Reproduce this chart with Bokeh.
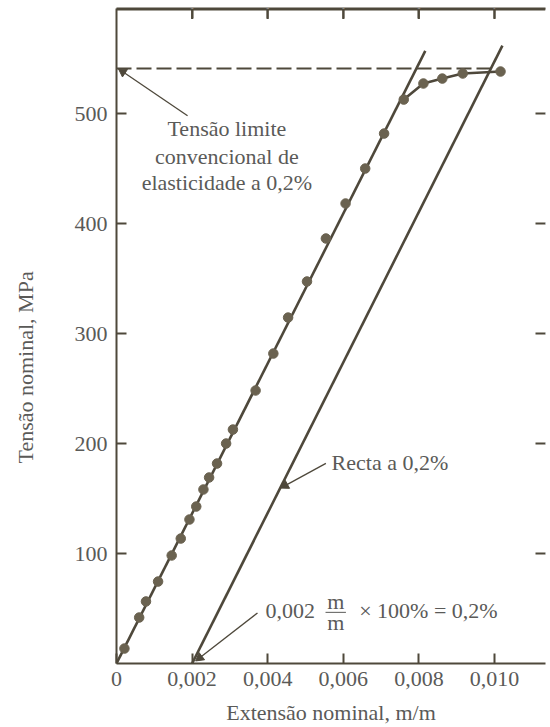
import math
from bokeh.plotting import figure
from bokeh.models import LinearAxis, FixedTicker, Range1d, Label, Title
from bokeh.embed import file_html
from bokeh.resources import INLINE

# ---- data ----
strain = [0.00021, 0.00060, 0.00078, 0.00110, 0.00146, 0.00170, 0.00193,
          0.00211, 0.00230, 0.00245, 0.00266, 0.00290, 0.00308, 0.00368,
          0.00415, 0.00454, 0.00504, 0.00554, 0.00606, 0.00658, 0.00708,
          0.00760, 0.00812, 0.00862, 0.00916, 0.01016]
stress = [13.6, 41.8, 56.4, 74.5, 98.2, 113.6, 130.9,
          142.7, 158.2, 169.1, 181.8, 200.0, 212.7, 248.2,
          281.8, 314.5, 347.3, 386.4, 418.2, 450.0, 481.8,
          512.7, 527.3, 531.8, 536.4, 538.2]
curve_start = 21                     # index where the curve leaves the elastic line
elastic_x = [0.0, 0.00817]
elastic_y = [0.0, 557.0]
offset_x = [0.002, 0.01021]
offset_y = [0.0, 561.8]
yield_stress = 541.0
yield_strain = 0.00991

x_ticks = [0.0, 0.002, 0.004, 0.006, 0.008, 0.010]
x_tick_labels = ["0", "0,002", "0,004", "0,006", "0,008", "0,010"]
y_ticks = [100, 200, 300, 400, 500]
y_tick_labels = ["100", "200", "300", "400", "500"]

X_END = 0.01135
Y_END = 595.5
PX_X = 38300.0    # approx. pixels per unit strain (for arrow-head orientation)
PX_Y = 1.1        # approx. pixels per MPa

INK = "#4e483b"
DOT = "#6a6250"
TXT = "#5a5a58"
FONT = "Liberation Serif"
FS = "22px"

p = figure(width=550, height=727, output_backend="svg", toolbar_location=None,
           x_range=Range1d(0, X_END), y_range=Range1d(0, Y_END),
           x_axis_location=None, y_axis_location=None,
           min_border_left=116, min_border_right=0, min_border_top=8,
           min_border_bottom=64)
p.grid.visible = False
p.outline_line_color = None

def style(ax, labels=True):
    ax.axis_line_color = INK
    ax.axis_line_width = 2
    ax.major_tick_line_color = INK
    ax.major_tick_line_width = 2
    ax.major_tick_in = 10
    ax.major_tick_out = 0
    ax.minor_tick_line_color = None
    ax.major_label_text_font = FONT
    ax.major_label_text_color = TXT
    if labels:
        ax.major_label_text_font_size = FS
    else:
        ax.major_label_text_font_size = "1px"
        ax.major_label_text_color = "white"
        ax.major_label_standoff = 0

xb = LinearAxis(ticker=FixedTicker(ticks=x_ticks),
                major_label_overrides=dict(zip(x_ticks, x_tick_labels)))
style(xb)
xb.major_label_standoff = 8
xb.axis_label = "Extensão nominal, m/m"
xb.axis_label_text_font = FONT
xb.axis_label_text_font_size = FS
xb.axis_label_text_font_style = "normal"
xb.axis_label_text_color = TXT
xb.axis_label_standoff = 11
p.add_layout(xb, "below")

yl = LinearAxis(ticker=FixedTicker(ticks=y_ticks),
                major_label_overrides=dict(zip(y_ticks, y_tick_labels)))
style(yl)
yl.major_label_standoff = 9
yl.axis_label = "\u00a0"           # spacer so that the title sits further out
yl.axis_label_text_font_size = FS
yl.axis_label_standoff = 1
p.add_layout(yl, "left")

xt = LinearAxis(ticker=FixedTicker(ticks=x_ticks[1:]))
style(xt, labels=False)
p.add_layout(xt, "above")

yr = LinearAxis(ticker=FixedTicker(ticks=y_ticks))
style(yr, labels=False)
yr.axis_line_color = None
p.add_layout(yr, "right")

# y axis title (a little below the frame centre, as in the original)
p.add_layout(Title(text="Tensão nominal, MPa", align="left", offset=200,
                   standoff=10, text_font=FONT, text_font_size=FS,
                   text_font_style="normal", text_color=TXT), "left")

# top frame edge with inward ticks
top_ticks = x_ticks[1:]
p.segment(x0=[0], y0=[Y_END], x1=[X_END], y1=[Y_END], line_color=INK, line_width=4)
p.segment(x0=top_ticks, y0=[Y_END] * len(top_ticks), x1=top_ticks,
          y1=[Y_END - 9.5] * len(top_ticks), line_color=INK, line_width=2)

# lines and points
p.line(elastic_x, elastic_y, line_color=INK, line_width=2.6)
p.line(offset_x, offset_y, line_color=INK, line_width=2.6)
p.line(strain[curve_start:], stress[curve_start:], line_color=INK, line_width=2.6)
p.line([0, yield_strain], [yield_stress, yield_stress], line_color=INK,
       line_width=2, line_dash="15 5")
p.scatter(strain, stress, size=9.5, fill_color=DOT, line_color=DOT)

# annotations
def lab(x, y, t, align="center"):
    p.add_layout(Label(x=x, y=y, text=t, text_align=align, text_baseline="middle",
                       text_font=FONT, text_font_size=FS, text_color=TXT))

lab(0.00292, 486, "Tensão limite")
lab(0.00292, 461, "convencional de")
lab(0.00292, 437, "elasticidade a 0,2%")
lab(0.00569, 183, "Recta a 0,2%", "left")
lab(0.00394, 48, "0,002", "left")
lab(0.00580, 56, "m")
lab(0.00580, 37, "m")
lab(0.00642, 48, "× 100% = 0,2%", "left")
p.line([0.00553, 0.00607], [46.5, 46.5], line_color=TXT, line_width=1)

def arrow(x0, y0, x1, y1):
    dx = (x1 - x0) * PX_X
    dy = (y1 - y0) * PX_Y
    th = math.atan2(dy, dx)
    back = 4.0
    hx = x1 - back * math.cos(th) / PX_X
    hy = y1 - back * math.sin(th) / PX_Y
    p.segment(x0=[x0], y0=[y0], x1=[hx], y1=[hy], line_color=INK, line_width=1.3)
    p.scatter(x=[hx], y=[hy], marker="triangle", size=9, angle=th - math.pi / 2,
              fill_color=INK, line_color=INK)

arrow(0.00188, 498, 0.00008, 540)
arrow(0.00554, 182, 0.00437, 160)
arrow(0.00373, 46, 0.00212, 3)

open("out.html", "w").write(file_html(p, INLINE))
